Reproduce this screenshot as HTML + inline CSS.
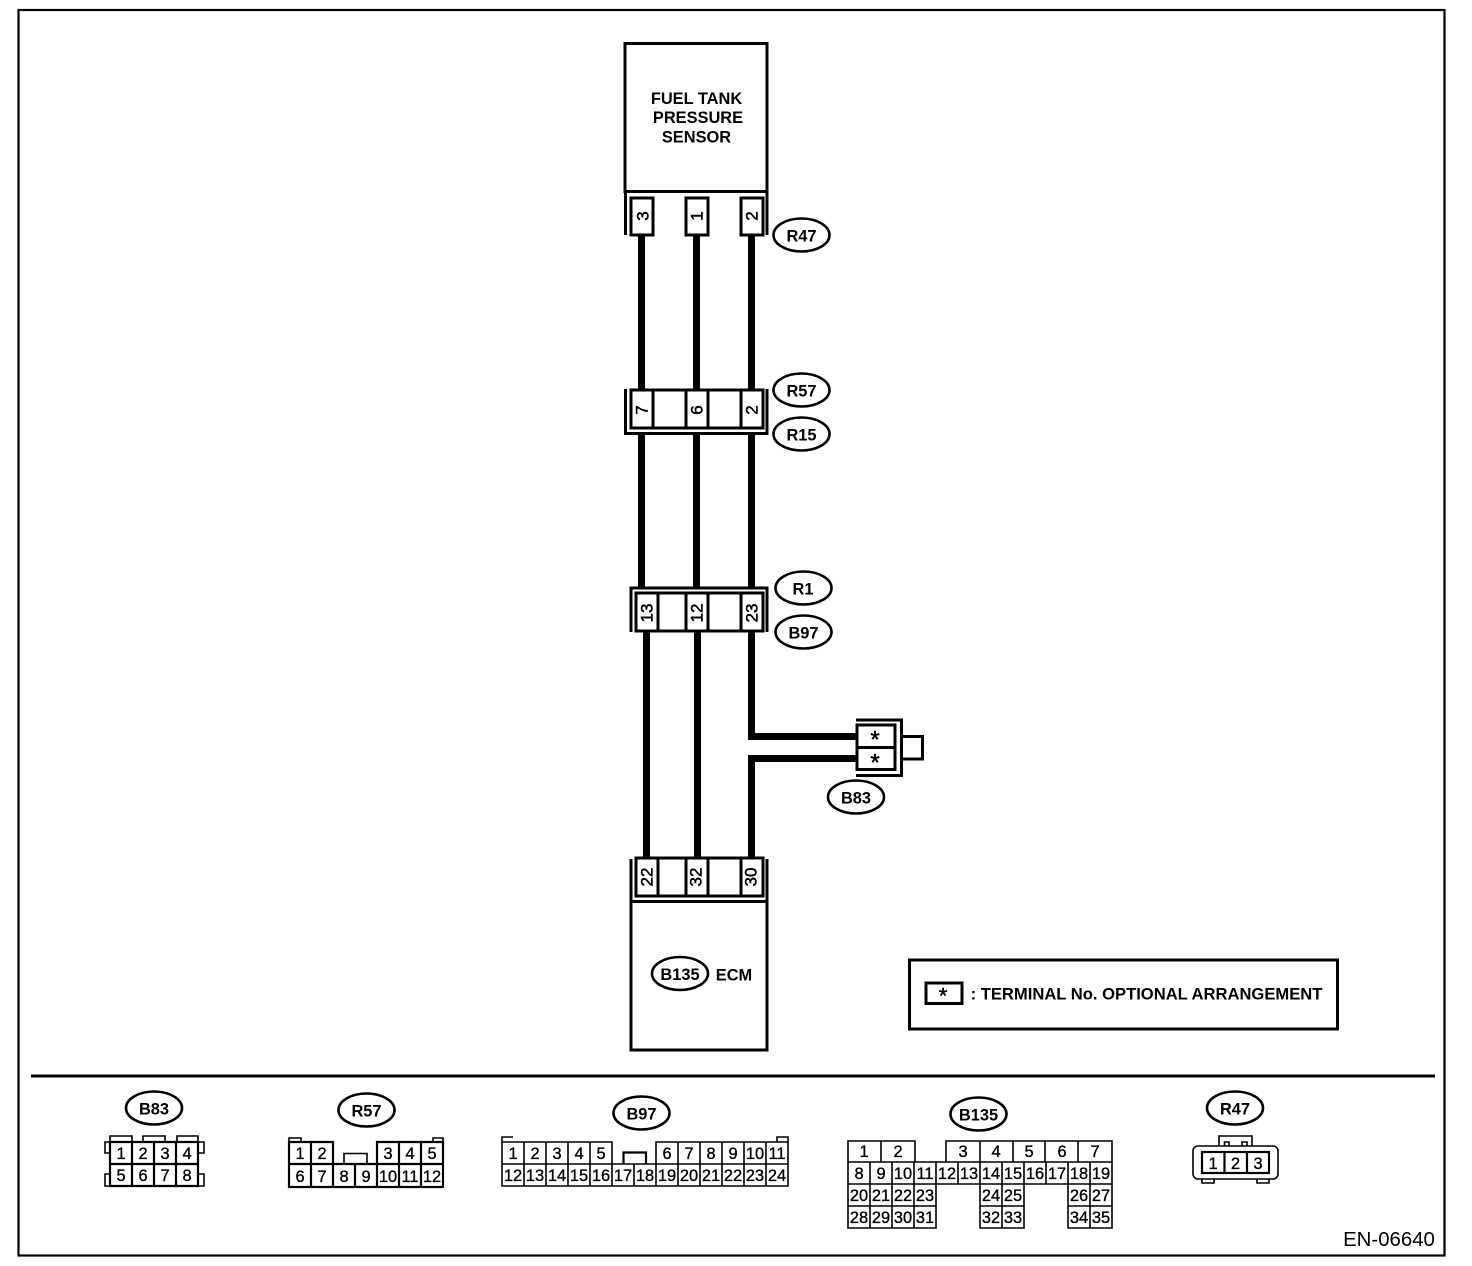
<!DOCTYPE html>
<html><head><meta charset="utf-8"><title>Fuel Tank Pressure Sensor</title>
<style>
html,body{margin:0;padding:0;background:#fff}
svg{display:block}
text{font-family:"Liberation Sans",sans-serif;fill:#000;text-anchor:middle;dominant-baseline:central}
.b{font-weight:bold;font-size:16.4px}
.n{font-size:16.4px;stroke:#000;stroke-width:.35}
.p{font-size:17px;stroke:#000;stroke-width:.5}
.l{fill:none;stroke:#000;stroke-width:2.2}
.t{fill:none;stroke:#000;stroke-width:1.6}
.k{fill:none;stroke:#000;stroke-width:3}
.w{fill:none;stroke:#000;stroke-width:7}
.o{fill:#fff;stroke:#000;stroke-width:2.6}
</style></head><body>
<svg width="1472" height="1266" viewBox="0 0 1472 1266" xmlns="http://www.w3.org/2000/svg">
<rect width="1472" height="1266" fill="#fff"/>
<rect x="18.5" y="10" width="1426" height="1245.5" class="l"/>

<!-- wires -->
<path class="w" d="M641.5 236V390M696.5 236V390M751.5 236V390M641.5 434V587M696.5 434V587M751.5 434V587M646.5 632V857M697.5 632V857M751.5 632V736.5H857M751.5 857V758.5H857"/>

<!-- sensor -->
<rect x="625" y="43.5" width="142" height="148" class="k"/>
<text class="b" x="696.5" y="99">FUEL TANK</text>
<text class="b" x="698" y="118">PRESSURE</text>
<text class="b" x="696.5" y="137.500">SENSOR</text>
<path class="k" d="M625.500 192V235M767 192V235"/>
<rect x="631" y="198" width="22" height="37" class="k" fill="#fff"/>
<rect x="686" y="198" width="22" height="37" class="k"/>
<rect x="741" y="198" width="22" height="37" class="k"/>
<text class="p" transform="translate(643,216) rotate(-90)">3</text>
<text class="p" transform="translate(697,216) rotate(-90)">1</text>
<text class="p" transform="translate(752,216) rotate(-90)">2</text>
<ellipse class="o" cx="801.500" cy="235" rx="28" ry="16.500"/><text class="b" x="801.500" y="236.500">R47</text>

<!-- R57/R15 -->
<path class="k" d="M625.500 389V433.500H767V389"/>
<rect x="631" y="390" width="132" height="38" class="k"/>
<path class="k" d="M653 390V428M686 390V428M708 390V428M741 390V428"/>
<text class="p" transform="translate(642,410) rotate(-90)">7</text>
<text class="p" transform="translate(697,410) rotate(-90)">6</text>
<text class="p" transform="translate(752,410) rotate(-90)">2</text>
<ellipse class="o" cx="801.500" cy="390" rx="28" ry="16.500"/><text class="b" x="801.500" y="391.500">R57</text>
<ellipse class="o" cx="801.500" cy="434" rx="28" ry="16.500"/><text class="b" x="801.500" y="435.500">R15</text>

<!-- R1/B97 -->
<path class="k" d="M631 632V588H767V632"/>
<rect x="636" y="593" width="127" height="38" class="k"/>
<path class="k" d="M658 593V631M686 593V631M708 593V631M741 593V631"/>
<text class="p" transform="translate(647,613) rotate(-90)">13</text>
<text class="p" transform="translate(697,613) rotate(-90)">12</text>
<text class="p" transform="translate(752,613) rotate(-90)">23</text>
<ellipse class="o" cx="803.500" cy="588" rx="28" ry="16.500"/><text class="b" x="803" y="589.500">R1</text>
<ellipse class="o" cx="803.500" cy="632" rx="28" ry="16.500"/><text class="b" x="803.500" y="633.500">B97</text>

<!-- B83 connector -->
<path class="k" d="M856 720H901.500V775.500H856"/>
<rect x="857" y="725" width="38" height="44.500" class="k" fill="#fff"/>
<path class="k" d="M857 747.500H895"/>
<path class="k" d="M902 736.500H922.500V759H902"/>
<text class="p" x="875" y="740" style="font-size:24px">*</text>
<text class="p" x="875" y="763" style="font-size:24px">*</text>
<ellipse class="o" cx="856" cy="797" rx="28" ry="16.500"/><text class="b" x="856" y="798.500">B83</text>

<!-- ECM -->
<path class="k" d="M631 859V900M767 859V900"/>
<rect x="636" y="858" width="127" height="38" class="k"/>
<path class="k" d="M658 858V896M686 858V896M708 858V896M741 858V896"/>
<text class="p" transform="translate(647,877) rotate(-90)">22</text>
<text class="p" transform="translate(696,877) rotate(-90)">32</text>
<text class="p" transform="translate(751,877) rotate(-90)">30</text>
<rect x="631" y="901.500" width="136" height="148.500" class="k"/>
<ellipse class="o" cx="680" cy="973.500" rx="28" ry="16.500"/><text class="b" x="680" y="975">B135</text>
<text class="b" x="734" y="975.500">ECM</text>

<!-- legend -->
<rect x="909.500" y="960" width="428" height="69" class="k"/>
<rect x="926" y="983" width="36" height="20.500" class="k"/>
<text class="p" x="943" y="996" style="font-size:22px">*</text>
<text class="b" x="1146.500" y="994" style="font-size:16.600px">: TERMINAL No. OPTIONAL ARRANGEMENT</text>

<path class="k" d="M31 1076H1435"/>

<!-- bottom B83 -->
<ellipse class="o" cx="154" cy="1108" rx="28" ry="16.500"/><text class="b" x="154" y="1109.500">B83</text>
<path class="l" d="M110 1142H198V1186H110ZM110 1164H198M132 1142V1186M154 1142V1186M176 1142V1186"/>
<path class="t" d="M110 1142V1136H132V1142M143 1142V1136H165V1142M177 1142V1136H198V1142M110 1142H105V1153H110M198 1142H204V1153H198M110 1174H105V1186H110M198 1174H204V1186H198"/>
<text class="n" x="121" y="1154">1</text><text class="n" x="143" y="1154">2</text><text class="n" x="165" y="1154">3</text><text class="n" x="187" y="1154">4</text>
<text class="n" x="121" y="1176">5</text><text class="n" x="143" y="1176">6</text><text class="n" x="165" y="1176">7</text><text class="n" x="187" y="1176">8</text>

<!-- bottom R57 -->
<ellipse class="o" cx="366.500" cy="1110" rx="28" ry="16.500"/><text class="b" x="366.500" y="1111.500">R57</text>
<path class="l" d="M289 1142H333V1164H377V1142H443V1187H289ZM289 1164H333M377 1164H443M311 1142V1187M333 1164V1187M355 1164V1187M377 1164V1187M399 1142V1187M421 1142V1187"/>
<path class="t" d="M344 1164V1153.500H367V1164M289 1142V1138H301V1142M433 1142V1138H443V1142"/>
<text class="n" x="300" y="1154">1</text><text class="n" x="322" y="1154">2</text><text class="n" x="388" y="1154">3</text><text class="n" x="410" y="1154">4</text><text class="n" x="432" y="1154">5</text>
<text class="n" x="300" y="1177">6</text><text class="n" x="322" y="1177">7</text><text class="n" x="344" y="1177">8</text><text class="n" x="366" y="1177">9</text><text class="n" x="388" y="1177">10</text><text class="n" x="410" y="1177">11</text><text class="n" x="432" y="1177">12</text>

<!-- bottom B97 -->
<ellipse class="o" cx="641.500" cy="1113" rx="28" ry="16.500"/><text class="b" x="641.500" y="1114.500">B97</text>
<path class="t" d="M502 1142H612V1164H656V1142H788V1186H502ZM502 1164H612M656 1164H788M524 1142V1186M546 1142V1186M568 1142V1186M590 1142V1186M612 1164V1186M634 1164V1186M656 1164V1186M678 1142V1186M700 1142V1186M722 1142V1186M744 1142V1186M766 1142V1186M513 1137H502V1142M777 1142V1137H788V1142"/>
<path class="l" d="M623.500 1164V1152.500H646V1164"/>
<text class="n" x="513" y="1154">1</text><text class="n" x="535" y="1154">2</text><text class="n" x="557" y="1154">3</text><text class="n" x="579" y="1154">4</text><text class="n" x="601" y="1154">5</text>
<text class="n" x="667" y="1154">6</text><text class="n" x="689" y="1154">7</text><text class="n" x="711" y="1154">8</text><text class="n" x="733" y="1154">9</text><text class="n" x="755" y="1154">10</text><text class="n" x="777" y="1154">11</text>
<text class="n" x="513" y="1176">12</text><text class="n" x="535" y="1176">13</text><text class="n" x="557" y="1176">14</text><text class="n" x="579" y="1176">15</text><text class="n" x="601" y="1176">16</text><text class="n" x="623" y="1176">17</text><text class="n" x="645" y="1176">18</text><text class="n" x="667" y="1176">19</text><text class="n" x="689" y="1176">20</text><text class="n" x="711" y="1176">21</text><text class="n" x="733" y="1176">22</text><text class="n" x="755" y="1176">23</text><text class="n" x="777" y="1176">24</text>

<!-- bottom B135 -->
<ellipse class="o" cx="978.500" cy="1114" rx="28" ry="16.500"/><text class="b" x="978.500" y="1115.500">B135</text>
<path class="t" d="M848 1141H915V1162H946V1141H1112V1228H1068V1184H1024V1228H980V1184H936V1228H848ZM848 1162H1112M848 1184H936M980 1184H1024M1068 1184H1112M848 1206H936M980 1206H1024M1068 1206H1112M881 1141V1162M946 1141V1162M980 1141V1184M1013 1141V1162M1045 1141V1162M1078 1141V1162M870 1162V1228M892 1162V1228M914 1162V1228M936 1162V1184M958 1162V1184M1002 1162V1228M1024 1162V1184M1046 1162V1184M1068 1162V1184M1090 1162V1228"/>
<text class="n" x="864" y="1152">1</text><text class="n" x="898" y="1152">2</text><text class="n" x="963" y="1152">3</text><text class="n" x="996" y="1152">4</text><text class="n" x="1029" y="1152">5</text><text class="n" x="1062" y="1152">6</text><text class="n" x="1095" y="1152">7</text>
<text class="n" x="859" y="1174">8</text><text class="n" x="881" y="1174">9</text><text class="n" x="903" y="1174">10</text><text class="n" x="925" y="1174">11</text><text class="n" x="947" y="1174">12</text><text class="n" x="969" y="1174">13</text><text class="n" x="991" y="1174">14</text><text class="n" x="1013" y="1174">15</text><text class="n" x="1035" y="1174">16</text><text class="n" x="1057" y="1174">17</text><text class="n" x="1079" y="1174">18</text><text class="n" x="1101" y="1174">19</text>
<text class="n" x="859" y="1196">20</text><text class="n" x="881" y="1196">21</text><text class="n" x="903" y="1196">22</text><text class="n" x="925" y="1196">23</text><text class="n" x="991" y="1196">24</text><text class="n" x="1013" y="1196">25</text><text class="n" x="1079" y="1196">26</text><text class="n" x="1101" y="1196">27</text>
<text class="n" x="859" y="1218">28</text><text class="n" x="881" y="1218">29</text><text class="n" x="903" y="1218">30</text><text class="n" x="925" y="1218">31</text><text class="n" x="991" y="1218">32</text><text class="n" x="1013" y="1218">33</text><text class="n" x="1079" y="1218">34</text><text class="n" x="1101" y="1218">35</text>

<!-- bottom R47 -->
<ellipse class="o" cx="1235" cy="1108" rx="28" ry="16.500"/><text class="b" x="1235" y="1109.500">R47</text>
<path class="t" d="M1219 1146V1136H1252V1146M1224.500 1146V1142H1229V1146M1242 1146V1142H1247V1146M1202 1179V1183H1214V1179M1257 1179V1183H1269V1179"/>
<rect x="1193" y="1146" width="85" height="33" rx="5" class="t"/>
<rect x="1202" y="1152" width="67" height="21" class="l"/>
<path class="l" d="M1224.500 1152V1173M1247 1152V1173"/>
<text class="n" x="1213" y="1164">1</text><text class="n" x="1235.500" y="1164">2</text><text class="n" x="1258" y="1164">3</text>

<text x="1389" y="1240" style="font-size:20.400px">EN-06640</text>
</svg>
</body></html>
